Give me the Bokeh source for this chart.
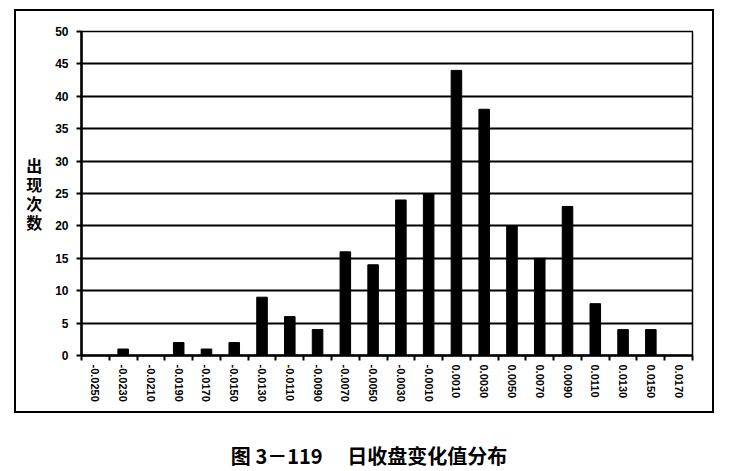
from bokeh.plotting import figure
from bokeh.models import FixedTicker, Div, ColumnDataSource, Spacer
from bokeh.layouts import column, row
from bokeh.embed import file_html
from bokeh.resources import INLINE

categories = ["-0.0250", "-0.0230", "-0.0210", "-0.0190", "-0.0170", "-0.0150",
              "-0.0130", "-0.0110", "-0.0090", "-0.0070", "-0.0050", "-0.0030",
              "-0.0010", "0.0010", "0.0030", "0.0050", "0.0070", "0.0090",
              "0.0110", "0.0130", "0.0150", "0.0170"]
counts = [0, 1, 0, 2, 1, 2, 9, 6, 4, 16, 14, 24, 25, 44, 38, 20, 15, 23, 8, 4, 4, 0]
y_ticks = [0, 5, 10, 15, 20, 25, 30, 35, 40, 45, 50]
y_title = "出现次数"
caption = "图 3－119　 日收盘变化值分布"

n = len(categories)
centers = [i + 0.5 for i in range(n)]
bounds = list(range(n + 1))

src = ColumnDataSource(dict(x=centers, top=counts, cat=categories))

p = figure(width=696, height=400, x_range=(0, n), y_range=(0, 50),
           output_backend="svg", toolbar_location=None,
           min_border_left=65, min_border_top=20, min_border_right=20, min_border_bottom=56)
p.styles = {"outline": "2px solid black"}

p.vbar(x="x", top="top", width=0.38, source=src, fill_color="black", line_color="black")

p.outline_line_color = "black"
p.outline_line_width = 1.5
p.xgrid.visible = False
p.ygrid.ticker = FixedTicker(ticks=y_ticks)
p.ygrid.grid_line_color = "black"
p.ygrid.grid_line_width = 2

ya = p.yaxis[0]
ya.ticker = FixedTicker(ticks=y_ticks)
ya.axis_line_width = 2.5
ya.major_tick_out = 5
ya.major_tick_in = 0
ya.major_tick_line_width = 2
ya.minor_tick_out = 0
ya.major_label_text_font = "Liberation Sans"
ya.major_label_text_font_style = "bold"
ya.major_label_text_font_size = "12px"
ya.major_label_text_color = "black"
ya.major_label_standoff = 8
ya.axis_label = "\n".join(y_title)
ya.axis_label_orientation = "horizontal"
ya.axis_label_text_font = "Noto Sans CJK SC"
ya.axis_label_text_font_style = "bold"
ya.axis_label_text_font_size = "16px"
ya.axis_label_text_color = "black"
ya.axis_label_text_line_height = 0.78
ya.axis_label_standoff = 10

xa = p.xaxis[0]
xa.ticker = FixedTicker(ticks=centers, minor_ticks=bounds)
xa.major_label_overrides = {c: lab for c, lab in zip(centers, categories)}
xa.axis_line_width = 2.5
xa.major_tick_out = 0
xa.major_tick_in = 0
xa.minor_tick_out = 5
xa.minor_tick_in = 0
xa.minor_tick_line_color = "black"
xa.minor_tick_line_width = 2
xa.major_label_orientation = "vertical"
xa.major_label_standoff = 4
xa.major_label_text_font = "Liberation Sans"
xa.major_label_text_font_style = "bold"
xa.major_label_text_font_size = "11px"
xa.major_label_text_color = "black"

cap = Div(text=caption, width=696, height=24,
          styles={"text-align": "center", "font-family": "Noto Sans CJK SC",
                  "font-weight": "bold", "font-size": "20px", "color": "black",
                  "width": "696px", "white-space": "pre", "line-height": "24px"})

layout = row(Spacer(width=16),
             column(Spacer(height=11), p, Spacer(height=28), cap))
open("out.html", "w").write(file_html(layout, INLINE))
